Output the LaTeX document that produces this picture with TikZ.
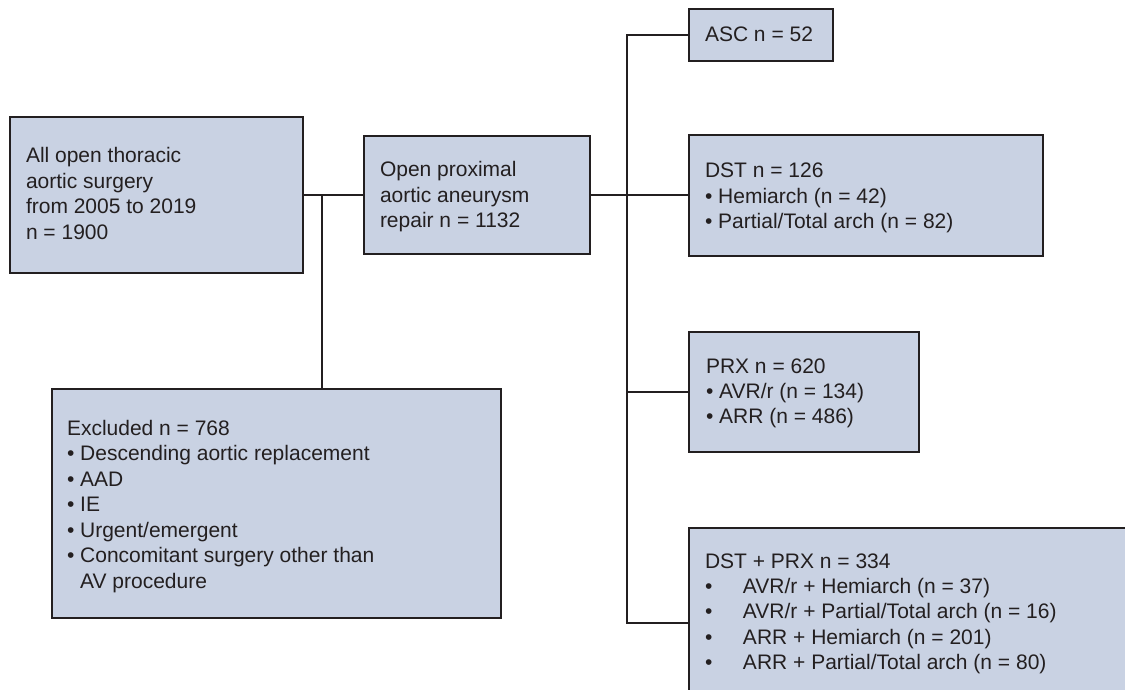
\documentclass[tikz,border=0pt]{standalone}
\usepackage{fontspec}
\setmainfont{Liberation Sans}
\definecolor{boxfill}{RGB}{201,210,227}
\definecolor{ink}{RGB}{35,31,32}
\begin{document}
\begin{tikzpicture}[x=1pt,y=-1pt,
  box/.style={draw=ink, fill=boxfill, line width=1.6pt, inner sep=0pt, outer sep=0pt,
              anchor=north west, rectangle},
  txt/.style={anchor=base west, inner sep=0pt, outer sep=0pt, text=ink,
              font=\fontsize{21}{25.4}\selectfont},
  link/.style={draw=ink, line width=1.4pt}]
\useasboundingbox (0,0) rectangle (1125,690);
\clip (0,0) rectangle (1125,690);
\newcommand{\bl}{\textbullet\ }
\newcommand{\tb}{\makebox[38pt][l]{\textbullet}}

% boxes
\node[box, minimum width=293pt, minimum height=156pt] (all)  at (10,117)  {};
\node[box, minimum width=226pt, minimum height=118pt] (prox) at (364,136) {};
\node[box, minimum width=449pt, minimum height=229pt] (excl) at (52,389)  {};
\node[box, minimum width=144pt, minimum height=52pt]  (asc)  at (689,9)   {};
\node[box, minimum width=354pt, minimum height=121pt] (dst)  at (689,135) {};
\node[box, minimum width=230pt, minimum height=120pt] (prx)  at (689,332) {};
\node[box, minimum width=480pt, minimum height=200pt] (dp)   at (689,528) {};

% box texts
\node[txt] (allt) at (26,163) {\parbox[t]{280pt}{All open thoracic\\aortic surgery\\from 2005 to 2019\\n = 1900}};
\node[txt] (proxt) at (380,177) {\parbox[t]{210pt}{Open proximal\\aortic aneurysm\\repair n = 1132}};
\node[txt] (exclt) at (67,435) {\parbox[t]{430pt}{\fontsize{21}{25.5}\selectfont Excluded n = 768\\\bl Descending aortic replacement\\\bl AAD\\\bl IE\\\bl Urgent/emergent\\\bl Concomitant surgery other than\\\hphantom{\bl}AV procedure}};
\node[txt] (asct) at (705,42) {ASC n = 52};
\node[txt] (dstt) at (705,178) {\parbox[t]{330pt}{DST n = 126\\\bl Hemiarch (n = 42)\\\bl Partial/Total arch (n = 82)}};
\node[txt] (prxt) at (706,373) {\parbox[t]{210pt}{PRX n = 620\\\bl AVR/r (n = 134)\\\bl ARR (n = 486)}};
\node[txt] (dpt) at (705,568) {\parbox[t]{420pt}{DST + PRX n = 334\\\tb AVR/r + Hemiarch (n = 37)\\\tb AVR/r + Partial/Total arch (n = 16)\\\tb ARR + Hemiarch (n = 201)\\\tb ARR + Partial/Total arch (n = 80)}};

% junction points
\coordinate (jx) at (322,195);
\coordinate (sp) at (627,623);

% connectors
\draw[link] (all.east) -- (prox.west);
\draw[link] (jx) -- (jx |- excl.north);
\draw[link] (prox.east) -- (prox.east -| dst.west);
\draw[link] (asc.west) -| (sp) -- (sp -| dp.west);
\draw[link] (prx.west) -- (prx.west -| sp);
\end{tikzpicture}
\end{document}
